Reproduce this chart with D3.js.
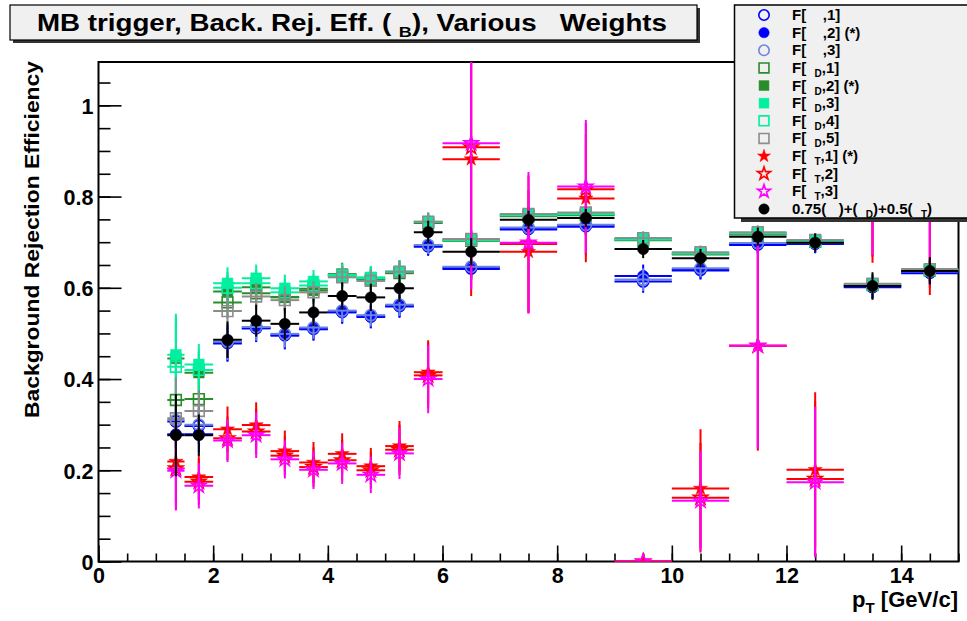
<!DOCTYPE html>
<html><head><meta charset="utf-8">
<script src="https://cdn.jsdelivr.net/npm/d3@7"></script>
<style>
body{margin:0;background:#fff;}
svg{display:block;font-family:"Liberation Sans",Arial,Helvetica,sans-serif;font-weight:bold;}
text{white-space:pre;}
</style>
</head><body><svg id="c" width="967" height="621"></svg>
<script>
// ---------------- data ----------------
const binLo = [1.2,1.5,2.0,2.5,3.0,3.5,4.0,4.5,5.0,5.5,6,7,8,9,10,11,12,13,14];
const binHi = [1.5,2.0,2.5,3.0,3.5,4.0,4.5,5.0,5.5,6.0,7,8,9,10,11,12,13,14,15];

const effE1  = [0.307,0.297,0.480,0.512,0.497,0.511,0.548,0.538,0.561,0.692,0.644,0.730,0.737,0.614,0.640,0.696,0.697,0.602,0.634];
const effE2  = [0.279,0.279,0.478,0.511,0.495,0.509,0.546,0.536,0.559,0.690,0.641,0.728,0.734,0.626,0.638,0.694,0.696,0.601,0.632];
const effE3  = [0.310,0.300,0.482,0.514,0.499,0.513,0.550,0.540,0.563,0.694,0.646,0.732,0.738,0.618,0.643,0.698,0.699,0.604,0.636];
const errE   = [0.060,0.040,0.040,0.030,0.030,0.025,0.025,0.025,0.025,0.020,0.025,0.020,0.020,0.025,0.020,0.020,0.020,0.025,0.020];

const effD1  = [0.354,0.356,0.568,0.588,0.580,0.598,0.628,0.618,0.632,0.742,0.703,0.757,0.759,0.704,0.673,0.717,0.701,0.606,0.638];
const effD2  = [0.445,0.414,0.592,0.601,0.579,0.594,0.630,0.620,0.633,0.743,0.704,0.758,0.760,0.705,0.674,0.718,0.702,0.606,0.639];
const effD3  = [0.453,0.432,0.610,0.621,0.599,0.614,0.628,0.623,0.636,0.745,0.706,0.760,0.762,0.707,0.676,0.720,0.703,0.608,0.640];
const effD4  = [0.427,0.420,0.600,0.610,0.590,0.605,0.626,0.621,0.635,0.744,0.705,0.759,0.761,0.706,0.675,0.719,0.702,0.607,0.639];
const effD5  = [0.314,0.330,0.549,0.581,0.573,0.590,0.623,0.615,0.635,0.745,0.707,0.762,0.765,0.709,0.678,0.722,0.705,0.609,0.641];
const errD   = [0.090,0.045,0.035,0.030,0.030,0.025,0.025,0.025,0.025,0.020,0.020,0.015,0.015,0.015,0.015,0.015,0.015,0.020,0.020];

const effT1  = [0.219,0.185,0.290,0.299,0.242,0.217,0.236,0.209,0.253,0.415,0.882,0.679,0.796,0,0.160,0.473,0.201,0.860,0.880];
const errT1  = [0.090,0.050,0.050,0.050,0.045,0.045,0.045,0.040,0.055,0.070,0.300,0.135,0.140,0,0.130,0.230,0.170,0.205,0.296];
const effT2  = [0.204,0.175,0.270,0.285,0.232,0.207,0.222,0.200,0.245,0.408,0.908,0.696,0.816,0,0.140,0.473,0.181,0.880,0.900];
const errT2  = [0.090,0.050,0.048,0.050,0.043,0.043,0.045,0.040,0.055,0.072,0.310,0.150,0.145,0,0.120,0.225,0.170,0.212,0.300];
const effT3  = [0.199,0.166,0.265,0.277,0.224,0.201,0.215,0.190,0.237,0.400,0.917,0.699,0.822,0,0.133,0.473,0.174,0.890,0.910];
const errT3  = [0.087,0.050,0.047,0.050,0.042,0.042,0.045,0.040,0.056,0.075,0.320,0.155,0.146,0,0.110,0.225,0.165,0.218,0.304];

const effComb = [0.277,0.277,0.486,0.528,0.521,0.546,0.582,0.579,0.599,0.722,0.679,0.749,0.753,0.685,0.665,0.712,0.699,0.604,0.637];
const errComb = [0.090,0.045,0.040,0.035,0.035,0.030,0.030,0.030,0.030,0.025,0.030,0.020,0.020,0.020,0.020,0.020,0.020,0.030,0.030];

const legendLabels = ["F[    ,1]","F[    ,2] (*)","F[    ,3]","F[  _D,1]","F[  _D,2] (*)","F[  _D,3]","F[  _D,4]","F[  _D,5]","F[  _T,1] (*)","F[  _T,2]","F[  _T,3]","0.75(   )+(  _D)+0.5(  _T)"];
const titleText = "MB trigger, Back. Rej. Eff. ( _B), Various   Weights";
const yTitle = "Background Rejection Efficiency";
const xTitle = "p_T [GeV/c]";
const xTickValues = [0,2,4,6,8,10,12,14];
const xTickLabels = ["0","2","4","6","8","10","12","14"];
const yTickValues = [0,0.2,0.4,0.6,0.8,1];
const yTickLabels = ["0","0.2","0.4","0.6","0.8","1"];

// ---------------- styles ----------------
const series = [
  {v:effE1, e:errE,   color:"#0000ff", shape:"circle", filled:false},
  {v:effE2, e:errE,   color:"#0000ff", shape:"circle", filled:true},
  {v:effE3, e:errE,   color:"#6a86dc", shape:"circle", filled:false},
  {v:effD1, e:errD,   color:"#2a8c2a", shape:"square", filled:false},
  {v:effD2, e:errD,   color:"#2a8c2a", shape:"square", filled:true},
  {v:effD3, e:errD,   color:"#00f0a0", shape:"square", filled:true},
  {v:effD4, e:errD,   color:"#00f0a0", shape:"square", filled:false},
  {v:effD5, e:errD,   color:"#8c8c8c", shape:"square", filled:false},
  {v:effT1, e:errT1,  color:"#ff0000", shape:"star",   filled:true},
  {v:effT2, e:errT2,  color:"#ff0000", shape:"star",   filled:false},
  {v:effT3, e:errT3,  color:"#ff00ff", shape:"star",   filled:false},
  {v:effComb, e:errComb, color:"#000000", shape:"circle", filled:true}
];
series.forEach((s,i)=>s.label = legendLabels[i]);

const svg = d3.select("#c");
const x = d3.scaleLinear().domain([0,15]).range([98.5,958.5]);
const y = d3.scaleLinear().domain([0,1.095]).range([561.5,62]);

const symType = {circle:d3.symbolCircle, square:d3.symbolSquare, star:d3.symbolStar};
const symSize = {circle:100, square:115, star:62};
function marker(g, s, scale){
  return g.append("path")
    .attr("d", d3.symbol().type(symType[s.shape]).size(symSize[s.shape]*scale)())
    .attr("fill", s.filled ? s.color : "none")
    .attr("stroke", s.color)
    .attr("stroke-width", s.filled ? 0.5 : 1.6);
}
function richText(t, str, subSize, shift){
  const parts = str.split(/(_[A-Za-z])/).filter(p=>p.length);
  let sub=false;
  parts.forEach(p=>{
    if(p[0]==="_"){
      t.append("tspan").attr("dy",shift).attr("font-size",subSize).text(p.slice(1));
      sub=true;
    } else {
      const ts = t.append("tspan").text(p);
      if(sub){ ts.attr("dy",-shift); sub=false; }
    }
  });
}

// clip for data
svg.append("defs").append("clipPath").attr("id","frame")
  .append("rect").attr("x",x(0)).attr("y",y.range()[1]).attr("width",x(15)-x(0)).attr("height",y(0)-y.range()[1]);

// ---------------- axes ----------------
const minorY = d3.range(0,1.0951,0.05);
const gy2 = svg.append("g").attr("transform",`translate(${x(0)},0)`)
  .call(d3.axisLeft(y).tickValues(minorY).tickSize(-12).tickFormat(""));
const gy = svg.append("g").attr("transform",`translate(${x(0)},0)`)
  .call(d3.axisLeft(y).tickValues(yTickValues).tickSize(-23).tickPadding(5)
        .tickFormat((d,i)=>yTickLabels[i]));
const minorX = d3.range(0,15.01,0.5);
const gx2 = svg.append("g").attr("transform",`translate(0,${y(0)})`)
  .call(d3.axisBottom(x).tickValues(minorX).tickSize(-8).tickFormat(""));
const gx = svg.append("g").attr("transform",`translate(0,${y(0)})`)
  .call(d3.axisBottom(x).tickValues(xTickValues).tickSize(-16).tickPadding(6)
        .tickFormat((d,i)=>xTickLabels[i]));
[gy,gy2,gx,gx2].forEach(g=>{
  g.select(".domain").remove();
  g.selectAll(".tick line").attr("stroke","#000").attr("stroke-width",1.6);
  g.selectAll("text").attr("font-size",21.5).attr("font-weight","bold")
    .attr("font-family","Liberation Sans, Arial, sans-serif").attr("fill","#000");
});
gy.selectAll(".tick text").attr("dy","0.36em");

// frame
svg.append("rect").attr("x",x(0)).attr("y",y.range()[1]).attr("width",x(15)-x(0)).attr("height",y(0)-y.range()[1])
  .attr("fill","none").attr("stroke","#000").attr("stroke-width",2);

// ---------------- data ----------------
const dataG = svg.append("g").attr("clip-path","url(#frame)");
series.forEach(s=>{
  const g = dataG.append("g");
  s.v.forEach((v,i)=>{
    const cx = x((binLo[i]+binHi[i])/2), cy = y(v);
    g.append("line").attr("x1",x(binLo[i])).attr("x2",x(binHi[i])).attr("y1",cy).attr("y2",cy)
      .attr("stroke",s.color).attr("stroke-width",2);
    if(s.e[i]>0) g.append("line").attr("x1",cx).attr("x2",cx).attr("y1",y(v-s.e[i])).attr("y2",y(v+s.e[i]))
      .attr("stroke",s.color).attr("stroke-width",2);
  });
  s.v.forEach((v,i)=>{
    marker(g,s,1).attr("transform",`translate(${x((binLo[i]+binHi[i])/2)},${y(v)})`);
  });
});

// ---------------- title ----------------
svg.append("rect").attr("x",13).attr("y",8).attr("width",687).attr("height",35).attr("fill","#333");
svg.append("rect").attr("x",10).attr("y",5).attr("width",687).attr("height",35)
  .attr("fill","#f0f0f0").attr("stroke","#000").attr("stroke-width",1.2);
const tt = svg.append("text").attr("x",352).attr("y",30.5).attr("text-anchor","middle")
  .attr("font-size",23).attr("textLength",630).attr("lengthAdjust","spacingAndGlyphs");
richText(tt, titleText, 15, 6);

// ---------------- axis titles ----------------
svg.append("text").attr("transform","translate(39,61) rotate(-90)").attr("text-anchor","end")
  .attr("font-size",21).attr("textLength",357).attr("lengthAdjust","spacingAndGlyphs").text(yTitle);
const xt = svg.append("text").attr("x",958).attr("y",607).attr("text-anchor","end").attr("font-size",22)
  .attr("textLength",106).attr("lengthAdjust","spacingAndGlyphs");
richText(xt, xTitle, 15, 6);

// ---------------- legend ----------------
svg.append("rect").attr("x",741).attr("y",9).attr("width",240).attr("height",213).attr("fill","#333");
svg.append("rect").attr("x",734.5).attr("y",5).attr("width",240).attr("height",213)
  .attr("fill","#f0f0f0").attr("stroke","#000").attr("stroke-width",1.5);
const ly = d3.scaleLinear().domain([0,11]).range([15,209]);
series.forEach((s,i)=>{
  marker(svg,s,0.85).attr("transform",`translate(764,${ly(i)})`);
  const t = svg.append("text").attr("x",792).attr("y",ly(i)+5).attr("font-size",15);
  richText(t, s.label, 10, 4);
});
</script></body></html>
